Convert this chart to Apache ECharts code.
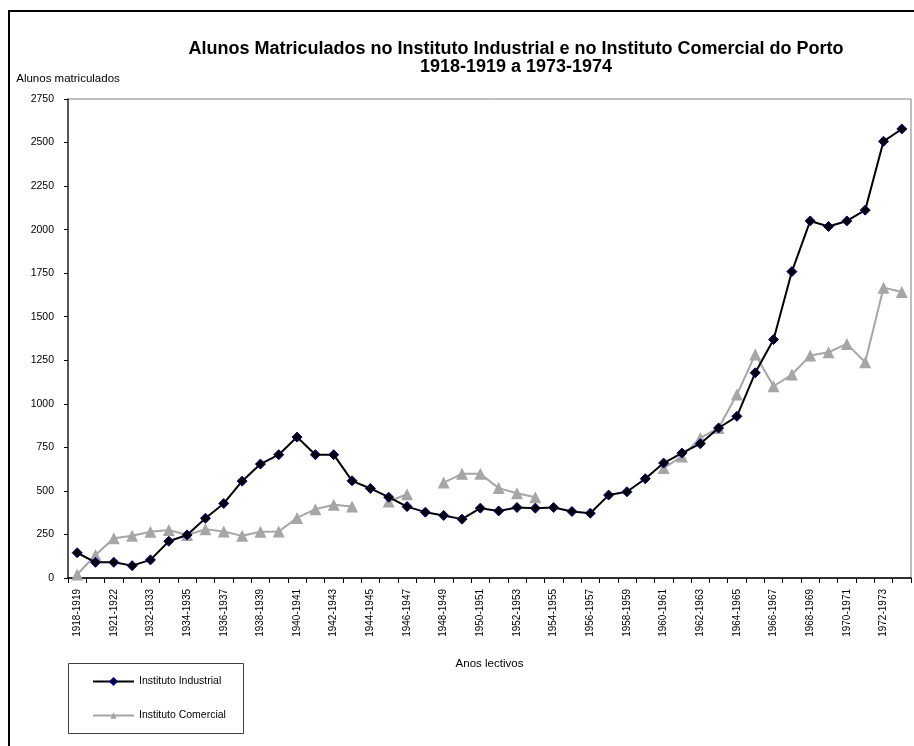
<!DOCTYPE html>
<html>
<head>
<meta charset="utf-8">
<title>Alunos Matriculados</title>
<script src="https://cdn.jsdelivr.net/npm/echarts@6/dist/echarts.min.js"></script>
<style>
  html, body { margin: 0; padding: 0; background: #fff; }
  #chart { width: 914px; height: 746px; }
</style>
</head>
<body>
<div id="chart"></div>
<script>
// anos lectivos (só metade aparece no eixo)
var anos = ['1918-1919', '1920-1921', '1921-1922', '1931-1932', '1932-1933', '1933-1934',
    '1934-1935', '1935-1936', '1936-1937', '1937-1938', '1938-1939', '1939-1940',
    '1940-1941', '1941-1942', '1942-1943', '1943-1944', '1944-1945', '1945-1946',
    '1946-1947', '1947-1948', '1948-1949', '1949-1950', '1950-1951', '1951-1952',
    '1952-1953', '1953-1954', '1954-1955', '1955-1956', '1956-1957', '1957-1958',
    '1958-1959', '1959-1960', '1960-1961', '1961-1962', '1962-1963', '1963-1964',
    '1964-1965', '1965-1966', '1966-1967', '1967-1968', '1968-1969', '1969-1970',
    '1970-1971', '1971-1972', '1972-1973', '1973-1974'];

var industrial = [145, 90, 90, 71, 104, 211, 247, 343, 428, 556, 654, 708, 809, 708, 708, 558,
    514, 464, 410, 378, 359, 338, 401, 385, 405, 401, 405, 382, 372, 476, 495, 570,
    660, 717, 771, 861, 928, 1178, 1369, 1759, 2050, 2018, 2050, 2112, 2507, 2578];

// null = sem dados
var comercial = [20, 132, 228, 242, 265, 276, 247, 280, 267, 242, 265, 267, 345, 395, 420, 410,
    null, 439, 481, null, 548, 598, 598, 516, 487, 464, null, null, null, null, null, null,
    631, 698, 804, 861, 1053, 1283, 1101, 1168, 1277, 1296, 1344, 1239, 1667, 1642];

var yMin = 0, yMax = 2750, yStep = 250;

var fonte = '"Liberation Sans", Arial, sans-serif';
var chart = echarts.init(document.getElementById('chart'));

var option = {
    animation: false,
    backgroundColor: '#fff',
    textStyle: { fontFamily: fonte, color: '#000' },
    title: {
        text: 'Alunos Matriculados no Instituto Industrial e no Instituto Comercial do Porto\n1918-1919 a 1973-1974',
        left: 511,
        top: 35,
        textAlign: 'center',
        textStyle: { fontFamily: fonte, fontSize: 18, fontWeight: 'bold', lineHeight: 18, color: '#000' }
    },
    graphic: [
        { type: 'rect', shape: { x: 9, y: 11, width: 1000, height: 1000 },
          style: { fill: 'none', stroke: '#000', lineWidth: 2 }, silent: true },
        { type: 'rect', shape: { x: 68.5, y: 663.5, width: 175, height: 70 },
          style: { fill: 'none', stroke: '#404040', lineWidth: 1 }, silent: true }
    ],
    legend: {
        orient: 'vertical',
        left: 92,
        top: 676,
        padding: 0,
        itemWidth: 41,
        itemHeight: 8,
        itemGap: 23,
        textStyle: { fontFamily: fonte, fontSize: 10.5, color: '#000' },
        data: ['Instituto Industrial', 'Instituto Comercial']
    },
    grid: {
        left: 68, top: 99, width: 843, height: 479,
        show: true, borderColor: '#808080', borderWidth: 1, containLabel: false
    },
    xAxis: {
        type: 'category',
        data: anos,
        boundaryGap: true,
        name: 'Anos lectivos',
        nameLocation: 'middle',
        nameGap: 80,
        nameTextStyle: { fontFamily: fonte, fontSize: 11.5, color: '#000' },
        axisLine: { lineStyle: { color: '#000', width: 1.5 } },
        axisTick: { show: true, interval: 0, length: 5, lineStyle: { color: '#000' } },
        axisLabel: { interval: 1, rotate: 90, fontSize: 10, color: '#000', margin: 11 },
        splitLine: { show: false }
    },
    yAxis: {
        type: 'value',
        min: yMin, max: yMax, interval: yStep,
        name: 'Alunos matriculados',
        nameLocation: 'end',
        nameGap: 14,
        nameTextStyle: { fontFamily: fonte, fontSize: 11.5, color: '#000' },
        axisLine: { show: true, lineStyle: { color: '#333', width: 1.5 } },
        axisTick: { show: true, length: 4, lineStyle: { color: '#000' } },
        axisLabel: { fontSize: 10.5, color: '#000', margin: 14, formatter: function (v) { return String(v); } },
        splitLine: { show: false }
    },
    series: [
        {
            name: 'Instituto Industrial',
            type: 'line',
            data: industrial,
            symbol: 'diamond',
            symbolSize: 10,
            lineStyle: { color: '#000', width: 2 },
            itemStyle: { color: '#000', borderColor: '#000080', borderWidth: 1 },
            z: 3
        },
        {
            name: 'Instituto Comercial',
            type: 'line',
            data: comercial,
            connectNulls: false,
            symbol: 'triangle',
            symbolSize: 12,
            lineStyle: { color: '#a6a6a6', width: 2 },
            itemStyle: { color: '#a6a6a6' },
            z: 2
        }
    ]
};

chart.setOption(option);
</script>
</body>
</html>
